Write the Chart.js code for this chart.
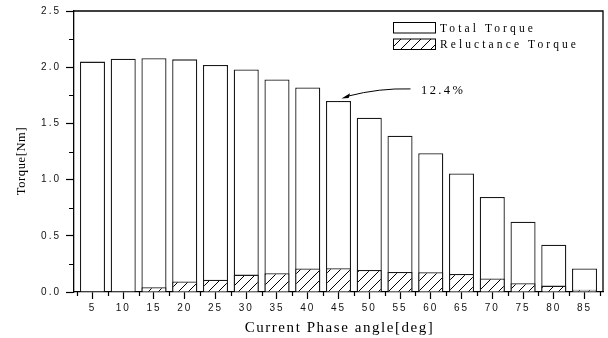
<!DOCTYPE html>
<html>
<head>
<meta charset="utf-8">
<script src="https://cdn.jsdelivr.net/npm/chart.js@4/dist/chart.umd.min.js"></script>
<style>
  html, body { margin: 0; padding: 0; background: #fff; }
  #wrap { width: 608px; height: 338px; }
</style>
</head>
<body>
<div id="wrap"><canvas id="c" width="608" height="338"></canvas></div>
<script>
// Current phase angle (deg) and the torque components at each angle (Nm)
const angles = [5, 10, 15, 20, 25, 30, 35, 40, 45, 50, 55, 60, 65, 70, 75, 80, 85];
const totalTorque = [2.05, 2.075, 2.08, 2.07, 2.02, 1.98, 1.89, 1.82, 1.70, 1.55, 1.39, 1.235, 1.055, 0.845, 0.625, 0.42, 0.21];
const reluctanceTorque = [0, 0, 0.042, 0.093, 0.11, 0.155, 0.167, 0.209, 0.211, 0.196, 0.179, 0.176, 0.161, 0.12, 0.078, 0.057, 0.021];
const yTicks = [0, 0.5, 1.0, 1.5, 2.0, 2.5];
const yMinorTicks = [0.25, 0.75, 1.25, 1.75, 2.25];
const xMinorTicks = [2.5, 7.5, 12.5, 17.5, 22.5, 27.5, 32.5, 37.5, 42.5, 47.5, 52.5, 57.5, 62.5, 67.5, 72.5, 77.5, 82.5, 87.5];
const seriesNames = ['Total Torque', 'Reluctance Torque'];
const xTitle = 'Current Phase angle[deg]';
const yTitle = 'Torque[Nm]';
const markedAngle = 45;

const SERIF = '"Liberation Serif", "Times New Roman", serif';
const SANS = '"Liberation Sans", Arial, sans-serif';

// diagonal "/" hatch used for the reluctance component
function makeHatch() {
  const t = document.createElement('canvas');
  t.width = 10; t.height = 10;
  const g = t.getContext('2d');
  g.fillStyle = '#fff';
  g.fillRect(0, 0, 10, 10);
  g.strokeStyle = '#000';
  g.lineWidth = 1;
  g.beginPath();
  g.moveTo(-2, 12); g.lineTo(12, -2);
  g.moveTo(-2, 2); g.lineTo(2, -2);
  g.moveTo(8, 12); g.lineTo(12, 8);
  g.stroke();
  return g.createPattern(t, 'repeat');
}
const hatch = makeHatch();

const decorations = {
  id: 'decorations',
  beforeDraw(chart) {
    chart.ctx.letterSpacing = '2px';
  },
  afterDraw(chart) {
    const ctx = chart.ctx;
    const a = chart.chartArea;
    const xs = chart.scales.x, ys = chart.scales.y;
    ctx.save();
    ctx.letterSpacing = '0px';
    ctx.strokeStyle = '#000';
    ctx.lineWidth = 1.3;

    // top and right frame
    ctx.beginPath();
    ctx.moveTo(a.left, a.top); ctx.lineTo(a.right, a.top); ctx.lineTo(a.right, a.bottom);
    ctx.stroke();

    // minor ticks
    ctx.lineWidth = 1.2;
    ctx.beginPath();
    yMinorTicks.forEach(v => {
      const y = Math.round(ys.getPixelForValue(v)) + 0.5;
      ctx.moveTo(a.left - 5, y); ctx.lineTo(a.left, y);
    });
    xMinorTicks.forEach(v => {
      const x = Math.round(xs.getPixelForValue(v)) + 0.5;
      ctx.moveTo(x, a.bottom); ctx.lineTo(x, a.bottom + 4);
    });
    ctx.stroke();

    // legend
    ctx.fillStyle = '#000';
    ctx.font = '11.5px ' + SERIF;
    ctx.letterSpacing = '3.1px';
    ctx.textBaseline = 'alphabetic';
    ctx.textAlign = 'left';
    const bx = a.right - 209.5, bw = 42, bh = 10.5;
    const rows = [{ y: a.top + 11.5, fill: '#fff' }, { y: a.top + 28, fill: hatch }];
    rows.forEach((r, i) => {
      ctx.fillStyle = r.fill;
      ctx.fillRect(bx, r.y, bw, bh);
      ctx.lineWidth = 1;
      ctx.strokeRect(bx, r.y, bw, bh);
      ctx.fillStyle = '#000';
      ctx.fillText(seriesNames[i], bx + 46.5, r.y + 9);
    });

    // arrow to the marked bar with its reluctance share
    const idx = angles.indexOf(markedAngle);
    const share = (reluctanceTorque[idx] / totalTorque[idx] * 100).toFixed(1) + '%';
    const tipX = xs.getPixelForValue(markedAngle) + 3;
    const tipY = ys.getPixelForValue(totalTorque[idx]) - 2.5;
    const sx = tipX + 69, sy = tipY - 9.5;
    ctx.lineWidth = 1;
    ctx.beginPath();
    ctx.moveTo(sx, sy);
    ctx.quadraticCurveTo(tipX + 38, tipY - 10.5, tipX + 6, tipY - 2.2);
    ctx.stroke();
    ctx.beginPath();
    ctx.moveTo(tipX, tipY);
    ctx.lineTo(tipX + 8.5, tipY - 5.2);
    ctx.lineTo(tipX + 7.2, tipY - 0.4);
    ctx.closePath();
    ctx.fill();
    ctx.font = '12.5px ' + SERIF;
    ctx.letterSpacing = '2.4px';
    ctx.fillText(share, sx + 10.5, sy + 5.3);

    // axis titles
    ctx.font = '15px ' + SERIF;
    ctx.letterSpacing = '1.55px';
    ctx.textAlign = 'center';
    ctx.fillText(xTitle, (a.left + a.right) / 2 + 1, 331.5);
    ctx.save();
    ctx.translate(24.5, 161);
    ctx.rotate(-Math.PI / 2);
    ctx.font = '12.5px ' + SERIF;
    ctx.letterSpacing = '0.6px';
    ctx.fillText(yTitle, 0, 0);
    ctx.restore();

    ctx.restore();
  }
};

const toPoints = vals => angles.map((x, i) => ({ x, y: vals[i] }));

new Chart(document.getElementById('c'), {
  type: 'bar',
  data: {
    datasets: [
      {
        label: seriesNames[0],
        data: toPoints(totalTorque),
        backgroundColor: '#fff',
        borderColor: '#1a1a1a',
        borderWidth: 1.3,
        borderSkipped: 'bottom',
        grouped: false,
        categoryPercentage: 1,
        barPercentage: 0.815,
        order: 2
      },
      {
        label: seriesNames[1],
        data: toPoints(reluctanceTorque),
        backgroundColor: hatch,
        borderColor: '#1a1a1a',
        borderWidth: 1.3,
        borderSkipped: 'bottom',
        grouped: false,
        categoryPercentage: 1,
        barPercentage: 0.815,
        order: 1
      }
    ]
  },
  options: {
    responsive: false,
    animation: false,
    events: [],
    layout: { padding: { top: 11, right: 5, left: 0, bottom: 0 } },
    plugins: { legend: { display: false }, tooltip: { enabled: false } },
    scales: {
      x: {
        type: 'linear',
        offset: false,
        min: 2,
        max: 88,
        afterBuildTicks: s => { s.ticks = angles.map(v => ({ value: v })); },
        afterFit: s => { s.height = 46; },
        border: { display: true, color: '#000', width: 1.3 },
        grid: { display: true, offset: false, drawOnChartArea: false, drawTicks: true, tickLength: 7, tickColor: '#000', tickWidth: 1.2 },
        ticks: {
          color: '#111',
          font: { family: SANS, size: 10 },
          padding: 3,
          maxRotation: 0,
          autoSkip: false,
          callback: v => String(v)
        }
      },
      y: {
        min: 0,
        max: 2.5,
        afterBuildTicks: s => { s.ticks = yTicks.map(v => ({ value: v })); },
        afterFit: s => { s.width = 74; },
        border: { display: true, color: '#000', width: 1.3 },
        grid: { display: true, drawOnChartArea: false, drawTicks: true, tickLength: 8, tickColor: '#000', tickWidth: 1.2 },
        ticks: {
          color: '#111',
          font: { family: SANS, size: 10 },
          padding: 5,
          autoSkip: false,
          callback: v => Number(v).toFixed(1)
        }
      }
    }
  },
  plugins: [decorations]
});
</script>
</body>
</html>
